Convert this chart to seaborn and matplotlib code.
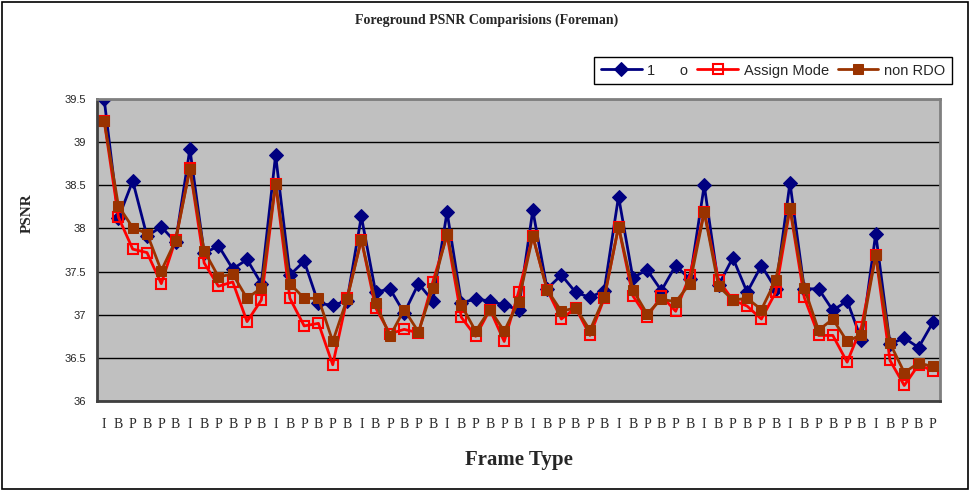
import numpy as np
import pandas as pd
import matplotlib
matplotlib.use("Agg")
import matplotlib.pyplot as plt
import seaborn as sns
from matplotlib.patches import Rectangle

frame_types = list("IBPBPB" * 9 + "IBPBP")

series_1o = [39.50, 38.12, 38.55, 37.91, 38.02, 37.84, 38.92, 37.71, 37.80, 37.53,
             37.64, 37.36, 38.85, 37.46, 37.62, 37.13, 37.11, 37.16, 38.14, 37.26,
             37.30, 37.02, 37.36, 37.16, 38.19, 37.14, 37.18, 37.16, 37.11, 37.06,
             38.21, 37.30, 37.46, 37.26, 37.20, 37.28, 38.37, 37.43, 37.52, 37.28,
             37.57, 37.41, 38.50, 37.34, 37.66, 37.26, 37.57, 37.30, 38.53, 37.30,
             37.30, 37.05, 37.16, 36.71, 37.94, 36.66, 36.73, 36.62, 36.91]

assign_mode = [39.25, 38.13, 37.76, 37.72, 37.36, 37.87, 38.70, 37.60, 37.33, 37.38,
               36.92, 37.17, 38.52, 37.19, 36.87, 36.90, 36.42, 37.19, 37.87, 37.08,
               36.78, 36.83, 36.79, 37.38, 37.92, 36.97, 36.75, 37.06, 36.69, 37.26,
               37.91, 37.29, 36.95, 37.08, 36.76, 37.19, 38.02, 37.22, 36.97, 37.22,
               37.04, 37.46, 38.19, 37.40, 37.17, 37.10, 36.95, 37.26, 38.23, 37.20,
               36.76, 36.76, 36.45, 36.86, 37.69, 36.47, 36.18, 36.42, 36.35]

non_rdo = [39.25, 38.26, 38.01, 37.94, 37.51, 37.86, 38.69, 37.74, 37.44, 37.47,
           37.19, 37.31, 38.52, 37.36, 37.19, 37.19, 36.69, 37.18, 37.87, 37.14,
           36.75, 37.06, 36.80, 37.31, 37.94, 37.11, 36.81, 37.06, 36.81, 37.15,
           37.91, 37.29, 37.04, 37.08, 36.82, 37.20, 38.02, 37.29, 37.01, 37.18,
           37.15, 37.36, 38.19, 37.33, 37.17, 37.19, 37.06, 37.40, 38.24, 37.31,
           36.82, 36.95, 36.69, 36.77, 37.69, 36.67, 36.33, 36.44, 36.40]

y_ticks = [36, 36.5, 37, 37.5, 38, 38.5, 39, 39.5]
y_tick_labels = ["36", "36.5", "37", "37.5", "38", "38.5", "39", "39.5"]

sns.set_theme(style="white")
plt.rcParams['font.family'] = ['Liberation Sans', 'DejaVu Sans']

fig = plt.figure(figsize=(9.73, 4.9), dpi=100)
ax = fig.add_axes([97/973, 1-401/490, (940-97)/973, (401-99)/490])
ax.set_facecolor("#C0C0C0")

idx = np.arange(len(frame_types))
df = pd.DataFrame({"idx": idx, "s1": series_1o, "s2": assign_mode, "s3": non_rdo})

sns.lineplot(data=df, x="idx", y="s1", ax=ax, color="#000080", lw=2,
             marker="D", markersize=7.5, markeredgecolor="#000080",
             markerfacecolor="#000080", label="1      o")
sns.lineplot(data=df, x="idx", y="s2", ax=ax, color="#FF0000", lw=2,
             marker="s", markersize=6.5, markeredgecolor="#FF0000",
             markerfacecolor="none", markeredgewidth=1.5, label="Assign Mode")
sns.lineplot(data=df, x="idx", y="s3", ax=ax, color="#993300", lw=2,
             marker="s", markersize=7.5, markeredgecolor="#993300",
             markerfacecolor="#993300", label="non RDO")

ax.set_xlim(-0.5, 58.5)
ax.set_ylim(36, 39.5)
ax.set_yticks(y_ticks)
ax.set_yticklabels(y_tick_labels, fontsize=8, family=['Liberation Sans'])
ax.yaxis.grid(True, color="black", lw=1)
ax.set_axisbelow(True)

ax.set_xticks(idx)
ax.set_xticklabels(frame_types, fontsize=10, family=['Liberation Serif'])
ax.set_xticks(np.arange(-0.5, 59, 1), minor=True)
ax.tick_params(axis="x", which="major", length=0, pad=12)
ax.tick_params(axis="x", which="minor", length=4, width=1, color="#404040", direction="out")
ax.tick_params(axis="y", which="major", length=4, width=1, color="#404040", direction="out", pad=4)

for s in ax.spines.values():
    s.set_color("#808080")
    s.set_linewidth(2)
ax.spines["bottom"].set_color("#404040")
ax.spines["left"].set_color("#404040")

ax.set_xlabel("Frame Type", fontsize=15, fontweight="bold", family=['Liberation Serif'], labelpad=14)
ax.set_ylabel("")
fig.text(27/973, 1-213/490, "PSNR", rotation=90, ha="center", va="center",
         fontsize=11, fontweight="bold", family=['Liberation Serif'])

fig.text(0.5, 1-20/490, "Foreground PSNR Comparisions (Foreman)", ha="center", va="center",
         fontsize=10, fontweight="bold", family=['Liberation Serif'])

leg = ax.legend(loc="upper right", bbox_to_anchor=(952/973, 1-57/490),
                bbox_transform=fig.transFigure, ncol=3, fontsize=10.5,
                frameon=True, fancybox=False, edgecolor="black", framealpha=1,
                handlelength=2.8, columnspacing=0.6, handletextpad=0.4,
                borderpad=0.45, borderaxespad=0)
leg.get_frame().set_linewidth(1)

fig.patches.append(Rectangle((0.002, 0.003), 0.993, 0.993, transform=fig.transFigure,
                             fill=False, edgecolor="black", lw=1.2))

fig.savefig("out.png", dpi=100)
